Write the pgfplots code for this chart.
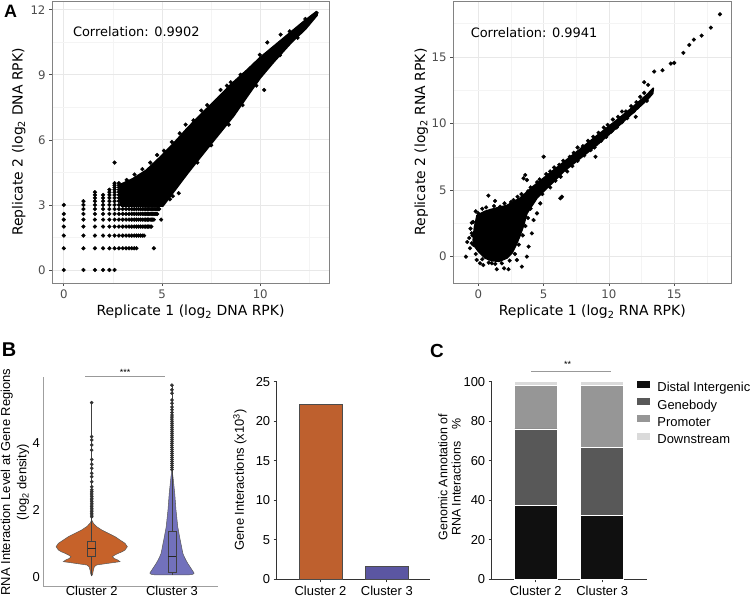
\documentclass[border=0pt]{standalone}
\usepackage{fontspec}
\setmainfont{Liberation Sans}
\newfontfamily\dejavu{DejaVu Sans}
\usepackage{pgfplots}
\pgfplotsset{compat=1.18}
\definecolor{gridmaj}{RGB}{232,232,232}
\definecolor{gridmin}{RGB}{244,244,244}
\definecolor{bordergray}{RGB}{130,130,130}
\definecolor{tickgray}{RGB}{77,77,77}
\definecolor{vorange}{RGB}{198,98,42}
\definecolor{vpurple}{RGB}{114,113,188}
\definecolor{borange}{RGB}{190,96,46}
\definecolor{bpurple}{RGB}{91,86,162}
\definecolor{cone}{RGB}{16,16,16}
\definecolor{ctwo}{RGB}{88,88,88}
\definecolor{cthree}{RGB}{150,150,150}
\definecolor{cfour}{RGB}{218,218,218}
\pgfplotsset{
  panelA/.style={
    scale only axis, anchor=south west,
    grid=both,
    major grid style={color=gridmaj, line width=0.7bp},
    minor grid style={color=gridmin, line width=0.5bp},
    axis line style={draw=bordergray, line width=0.8bp},
    tick align=outside, major tick length=3bp, minor tick length=0pt,
    tick pos=left,
    tick style={color=tickgray, line width=0.6bp},
    ticklabel style={font=\dejavu\fontsize{11.8}{14}\selectfont, text=tickgray},
    /pgf/number format/assume math mode=true,
    clip=true,
  },
  panelB/.style={
    scale only axis, anchor=south west,
    axis x line*=bottom, axis y line*=left,
    ticklabel style={font=\fontsize{13}{15}\selectfont},
    /pgf/number format/assume math mode=true,
    clip=false,
  },
}
\begin{document}
\begin{tikzpicture}
\useasboundingbox (0,0) rectangle (750bp,600bp);

% ---------------- A left: DNA ----------------
\begin{axis}[panelA, at={(52bp,317bp)}, width=277bp, height=282bp,
  xmin=-0.6, xmax=13.5, ymin=-0.6, ymax=12.4,
  xtick={0,5,10}, ytick={0,3,6,9,12},
  minor xtick={2.5,7.5,12.5}, minor ytick={1.5,4.5,7.5,10.5}]
\addplot[fill=black, draw=black, line width=1.6bp, line join=round] coordinates {
 (2.9,2.95) (5.05,2.95) (5.3,3.25) (5.8,3.85) (6.3,4.45) (7.0,5.25) (7.8,6.15)
 (8.65,7.1) (9.3,7.95) (10.0,8.85) (10.7,9.6) (11.6,10.5) (12.3,11.1) (12.9,11.75)
 (12.85,11.9) (12.2,11.45) (11.4,10.85) (10.6,10.25) (10.0,9.8) (9.3,9.2) (8.5,8.55)
 (7.8,7.9) (6.95,7.15) (6.3,6.55) (5.6,5.85) (4.9,5.2) (4.2,4.6) (3.5,4.2) (2.9,3.95) (2.9,2.95)};
\addplot[only marks, mark=*, mark size=1.9bp, mark options={fill=black, draw=black}] coordinates {
 (0,0) (1,0) (1.585,0) (2,0) (2.322,0) (2.585,0)
 (0,1) (1,1) (1.585,1) (2,1) (2.322,1) (2.585,1) (2.807,1) (3,1) (3.17,1) (3.322,1) (3.459,1) (3.585,1) (3.7,1) (4.585,1)
 (0,1.585) (1,1.585) (1.585,1.585) (2,1.585) (2.322,1.585) (2.585,1.585) (2.807,1.585) (3,1.585) (3.17,1.585) (3.322,1.585) (3.459,1.585) (3.585,1.585) (3.7,1.585) (3.807,1.585) (3.907,1.585) (4,1.585) (4.087,1.585)
 (0,2) (1,2) (1.585,2) (2,2) (2.322,2) (2.585,2) (2.807,2) (3,2) (3.17,2) (3.322,2) (3.459,2) (3.585,2) (3.7,2) (3.807,2) (3.907,2) (4,2) (4.087,2) (4.17,2) (4.248,2) (4.322,2) (4.392,2) (4.459,2)
 (0,2.322) (1,2.322) (1.585,2.322) (2,2.322) (2.322,2.322) (2.585,2.322) (2.807,2.322) (3,2.322) (3.17,2.322) (3.322,2.322) (3.459,2.322) (3.585,2.322) (3.7,2.322) (3.807,2.322) (3.907,2.322) (4,2.322) (4.087,2.322) (4.17,2.322) (4.248,2.322) (4.322,2.322) (4.392,2.322) (4.459,2.322) (4.524,2.322) (4.585,2.322) (4.954,2.322)
 (0,2.585) (1,2.585) (1.585,2.585) (2,2.585) (2.322,2.585) (2.585,2.585) (2.807,2.585) (3,2.585) (3.17,2.585) (3.322,2.585) (3.459,2.585) (3.585,2.585) (3.7,2.585) (3.807,2.585) (3.907,2.585) (4,2.585) (4.087,2.585) (4.17,2.585) (4.248,2.585) (4.322,2.585) (4.392,2.585) (4.459,2.585) (4.524,2.585) (4.585,2.585) (4.644,2.585) (4.7,2.585) (4.755,2.585)
 (1,2.807) (1.585,2.807) (2,2.807) (2.322,2.807) (2.585,2.807) (2.807,2.807) (3,2.807) (3.17,2.807) (3.322,2.807) (3.459,2.807) (3.585,2.807) (3.7,2.807) (3.807,2.807) (3.907,2.807) (4,2.807) (4.087,2.807) (4.17,2.807) (4.248,2.807) (4.322,2.807) (4.392,2.807) (4.459,2.807) (4.524,2.807) (4.585,2.807) (4.644,2.807) (4.7,2.807) (4.755,2.807) (4.807,2.807) (4.858,2.807)
 (0,3) (1,3) (1.585,3) (2,3) (2.322,3) (2.585,3) (2.807,3)
 (1,3.17)
 (1.585,3.17) (1.585,3.322) (1.585,3.459) (1.585,3.585)
 (2,3.17) (2,3.322) (2,3.459)
 (2.322,3.17) (2.322,3.322) (2.322,3.459) (2.322,3.585) (2.322,3.7)
 (2.585,3.17) (2.585,3.322) (2.585,3.459) (2.585,3.585) (2.585,3.7) (2.585,3.807) (2.585,3.907) (2.585,4.0) (2.585,4.95)
 (2.807,3.17) (2.807,3.322) (2.807,3.459) (2.807,3.585) (2.807,3.7) (2.807,3.807) (2.807,3.907) (2.807,4.0)
 (3.2,4.15) (3.6,4.4) (4.0,4.65) (4.4,4.95) (4.75,5.3) (5.1,5.5) (5.5,5.9) (5.9,6.3) (6.2,6.7) (6.6,6.9)
 (7.0,7.35) (7.3,7.6) (7.98,8.3) (8.3,8.5) (8.5,8.65) (9.0,9.0) (9.68,9.46) (9.98,9.92) (10.36,10.49)
 (11.04,10.85) (11.5,11.0) (12.3,11.57) (12.65,11.7) (12.87,11.85)
 (10.2,8.3) (5.85,3.54) (5.4,3.26) (5.55,3.4) (6.8,4.95) (7.5,5.75) (8.4,6.7) (9.1,7.6) (9.8,8.5) (11.0,9.9) (11.9,10.7)
};
\node[anchor=west, font=\dejavu\fontsize{13}{15}\selectfont] at (axis cs:0.29,10.97) {Correlation: 0.9902};
\end{axis}

% ---------------- A right: RNA ----------------
\begin{axis}[panelA, at={(453bp,317bp)}, width=278.7bp, height=282bp,
  xmin=-1.94, xmax=19.4, ymin=-1.98, ymax=19.2,
  xtick={0,5,10,15}, ytick={0,5,10,15},
  minor xtick={2.5,7.5,12.5,17.5}, minor ytick={2.5,7.5,12.5,17.5}]
\addplot[fill=black, draw=black, line width=1.6bp, line join=round] coordinates {
 (-0.4,1.2) (-0.3,2.2) (-0.1,3.1) (0.5,3.4) (1.0,3.55) (2.2,3.85) (3.2,4.4) (4.23,5.3)
 (5.26,6.1) (6.54,7.1) (7.82,8.1) (9.1,9.1) (10.4,10.1) (11.67,11.1) (12.95,12.2) (13.4,12.65)
 (13.35,12.25) (12.95,11.8) (11.67,10.65) (10.38,9.5) (9.1,8.4) (7.82,7.4) (6.54,6.4)
 (5.26,5.15) (4.49,4.4) (3.72,3.25) (3.45,2.3) (3.2,1.6) (2.9,0.9) (2.6,0.3) (2.2,-0.1)
 (1.6,-0.35) (1.0,-0.3) (0.5,-0.1) (0.0,0.4) (-0.3,0.8) (-0.4,1.2)};
\addplot[only marks, mark=*, mark size=1.9bp, mark options={fill=black, draw=black}] coordinates {
 (-0.95,0) (-0.85,1.1) (-0.7,1.4) (-0.5,1.75) (-0.6,2.1) (-0.5,2.55) (0,3.25) (-0.64,0.63) (-0.38,0.88)
 (-0.13,-0.25) (0.13,-0.5) (0.38,-0.63) (1.03,-0.5) (1.41,-0.95) (1.97,-0.88) (2.31,-0.95) (2.95,-0.25) (3.33,-0.75) (3.72,0)
 (3.85,0.75) (4.1,1.75) (4.23,2.75) (4.49,3.25) (4.74,4.0) (0.77,4.58) (1.67,3.75) (1.28,4.18) (2.69,4.25)
 (3.59,6.13) (3.72,5.75) (3.46,5.88) (5.0,7.5) (8.97,7.5) (12.05,10.5) (6.28,4.38) (6.4,4.5)
 (-0.2,3.4) (0.3,3.6) (0.6,3.7) (1.2,3.8) (2.0,4.0) (2.5,4.1) (3.0,4.5) (3.3,4.7) (3.8,4.9)
 (-0.5,1.0) (-0.45,1.6) (-0.4,2.6) (-0.2,0.2) (0.3,-0.2) (0.8,-0.45) (1.3,-0.55) (1.8,-0.5) (2.4,-0.3)
 (2.8,0.2) (3.1,0.9) (3.4,1.6) (3.6,2.3) (3.8,2.9) (4.0,3.6)
 (4.0,5.2) (4.7,5.8) (5.2,6.2) (5.8,6.7) (6.5,7.2) (7.3,7.8) (8.0,8.3) (8.8,9.0) (9.6,9.7) (10.3,10.3) (11.0,10.9) (11.7,11.3) (12.4,12.0)
 (4.9,4.7) (5.9,5.7) (6.3,6.0) (7.2,6.8) (8.1,7.6) (8.9,8.2) (9.8,9.0) (10.6,9.7) (11.4,10.4) (12.2,11.2) (12.9,11.7)
 (4.5,5.6) (5.5,6.4) (6.2,6.9) (7.0,7.5) (7.6,8.2) (8.4,8.7) (9.2,9.3) (9.9,9.9) (10.7,10.5) (11.3,10.9) (12.1,11.6) (12.7,12.3) (13.0,12.9)
 (5.5,5.2) (6.8,6.4) (7.6,7.2) (8.6,8.0) (9.4,8.7) (10.2,9.4) (11.0,10.1) (11.9,10.9) (12.5,11.5)
 (12.7,13.1) (13.46,13.9) (14.1,14.0) (14.74,14.5) (15.0,14.55) (15.7,15.3) (16.15,15.9) (16.5,16.3) (17.1,16.6) (17.8,17.2) (18.5,18.2)
};
\node[anchor=west, font=\dejavu\fontsize{13}{15}\selectfont] at (axis cs:-0.85,16.8) {Correlation: 0.9941};
\end{axis}

% A labels
\node[font=\dejavu\fontsize{14}{17}\selectfont, anchor=base] at (190.5bp,284bp) {Replicate 1 (log\textsubscript{2} DNA RPK)};
\node[font=\dejavu\fontsize{14}{17}\selectfont, anchor=base, rotate=90] at (22.7bp,458bp) {Replicate 2 (log\textsubscript{2} DNA RPK)};
\node[font=\dejavu\fontsize{14}{17}\selectfont, anchor=base] at (592.3bp,284bp) {Replicate 1 (log\textsubscript{2} RNA RPK)};
\node[font=\dejavu\fontsize{14}{17}\selectfont, anchor=base, rotate=90] at (425bp,458bp) {Replicate 2 (log\textsubscript{2} RNA RPK)};

% ---------------- B left: violins ----------------
\begin{axis}[panelB, at={(43.3bp,14bp)}, width=175bp, height=209.3bp,
  xmin=-0.603, xmax=1.577, ymin=-0.259, ymax=5.961,
  axis line style={draw=gray!75, line width=0.8bp},
  xtick={0,1}, xticklabels={Cluster 2,Cluster 3}, ytick={0,2,4},
  xticklabel style={yshift=3bp},
  major tick length=0pt]
\addplot[fill=vorange, draw=black!65, line width=0.5bp] coordinates {
 (0,0.039) (0.012,0.1) (0.021,0.217) (0.033,0.315) (0.062,0.366) (0.208,0.416) (0.353,0.464) (0.324,0.514)
 (0.28,0.56) (0.257,0.612) (0.29,0.663) (0.332,0.713) (0.38,0.76) (0.415,0.811) (0.444,0.909) (0.415,1.010)
 (0.353,1.108) (0.291,1.207) (0.208,1.307) (0.125,1.406) (0.062,1.505) (0.021,1.604) (0,1.703)
 (-0.021,1.604) (-0.062,1.505) (-0.125,1.406) (-0.208,1.307) (-0.291,1.207) (-0.353,1.108) (-0.415,1.010)
 (-0.444,0.909) (-0.415,0.811) (-0.38,0.76) (-0.332,0.713) (-0.29,0.663) (-0.257,0.612) (-0.28,0.56)
 (-0.324,0.514) (-0.353,0.464) (-0.208,0.416) (-0.062,0.366) (-0.033,0.315) (-0.021,0.217) (-0.012,0.1) (0,0.039)};
\addplot[fill=vpurple, draw=black!65, line width=0.5bp] coordinates {
 (1.22,0.075) (1.26,0.09) (1.275,0.12) (1.272,0.14) (1.255,0.2) (1.228,0.3) (1.2,0.4) (1.176,0.5) (1.155,0.6)
 (1.137,0.7) (1.128,0.8) (1.112,1.0) (1.095,1.2) (1.072,1.5) (1.05,2.0) (1.034,2.5) (1.012,3.0) (1,3.2)
 (0.988,3.0) (0.966,2.5) (0.95,2.0) (0.928,1.5) (0.905,1.2) (0.888,1.0) (0.872,0.8) (0.863,0.7) (0.845,0.6)
 (0.824,0.5) (0.8,0.4) (0.772,0.3) (0.745,0.2) (0.728,0.14) (0.725,0.12) (0.74,0.09) (0.78,0.075) (1.22,0.075)};
% stems / whiskers
\addplot[draw=black!75, line width=0.6bp] coordinates {(0,0.04) (0,5.19)};
\addplot[draw=black!75, line width=0.6bp] coordinates {(1,0.08) (1,5.71)};
% boxes
\addplot[fill=vorange, draw=black!75, line width=0.6bp] coordinates {(-0.05,0.61) (0.05,0.61) (0.05,1.08) (-0.05,1.08) (-0.05,0.61)};
\addplot[draw=black!85, line width=0.9bp] coordinates {(-0.05,0.86) (0.05,0.86)};
\addplot[fill=vpurple, draw=black!75, line width=0.6bp] coordinates {(0.95,0.16) (1.05,0.16) (1.05,1.37) (0.95,1.37) (0.95,0.16)};
\addplot[draw=black!85, line width=0.9bp] coordinates {(0.95,0.63) (1.05,0.63)};
% outliers
\addplot[only marks, mark=*, mark size=1.6bp, mark options={fill=black!80, draw=black!80}] coordinates {
 (0,1.80) (0,1.85) (0,1.90) (0,1.95) (0,2.00) (0,2.05) (0,2.10) (0,2.15) (0,2.20) (0,2.25) (0,2.30) (0,2.35)
 (0,2.40) (0,2.45) (0,2.50) (0,2.55) (0,2.60) (0,2.69) (0,2.84) (0,2.99) (0,3.09) (0,3.24) (0,3.36) (0,3.50)
 (0,3.78) (0,3.93) (0,4.08) (0,4.18) (0,5.19)
 (1,3.20) (1,3.26) (1,3.32) (1,3.38) (1,3.44) (1,3.50) (1,3.56) (1,3.62) (1,3.68) (1,3.74) (1,3.80) (1,3.86)
 (1,3.92) (1,3.98) (1,4.04) (1,4.10) (1,4.16) (1,4.22) (1,4.28) (1,4.34) (1,4.40) (1,4.46) (1,4.52) (1,4.58)
 (1,4.64) (1,4.70) (1,4.76) (1,4.82) (1,4.90) (1,4.98) (1,5.06) (1,5.17) (1,5.27) (1,5.47) (1,5.57) (1,5.71)};
% significance
\addplot[draw=gray!80, line width=0.7bp] coordinates {(-0.08,5.98) (0.91,5.98)};
\node[font=\fontsize{9}{9}\selectfont] at (axis cs:0.415,6.08) {***};
\end{axis}
\node[font=\fontsize{13}{16.3}\selectfont, rotate=90, align=center] at (15bp,118bp) {RNA Interaction Level at Gene Regions\\(log\textsubscript{2} density)};

% ---------------- B right: bars ----------------
\begin{axis}[panelB, at={(276.7bp,20.7bp)}, width=153.3bp, height=197.6bp,
  xmin=-0.66, xmax=1.65, ymin=0, ymax=25,
  axis line style={draw=black!80, line width=0.8bp},
  tick align=outside, major tick length=3bp, tick style={color=black!80, line width=0.8bp},
  xtick={0,1}, xticklabels={Cluster 2,Cluster 3}, ytick={0,5,10,15,20,25},
  ybar, bar width=42.7bp]
\addplot[fill=borange, draw=black!70, line width=0.6bp, bar shift=0pt] coordinates {(0,22.1)};
\addplot[fill=bpurple, draw=black!70, line width=0.6bp, bar shift=0pt] coordinates {(1,1.65)};
\end{axis}
\node[font=\fontsize{13}{15}\selectfont, rotate=90] at (240bp,120bp) {Gene Interactions (x10\textsuperscript{3})};

% ---------------- C: stacked bars ----------------
\begin{axis}[panelB, at={(491.7bp,20.7bp)}, width=155bp, height=197.6bp,
  xmin=-0.663, xmax=1.668, ymin=0, ymax=100,
  axis line style={draw=black!80, line width=0.8bp},
  tick align=outside, major tick length=3bp, tick style={color=black!80, line width=0.8bp},
  xtick={0,1}, xticklabels={Cluster 2,Cluster 3}, ytick={0,20,40,60,80,100},
  ybar stacked, bar width=43bp,
  legend style={at={(0.935,1.005)}, anchor=north west, draw=none, fill=none, inner sep=0pt,
    font=\fontsize{13}{15}\selectfont,
    nodes={inner sep=0pt, text height=10bp, text depth=3bp},
    row sep=3.2bp,
    /tikz/every odd column/.append style={column sep=7.6bp}},
  legend cell align=left,
  legend image code/.code={\fill[#1, draw=none] (0bp,0.5bp) rectangle (13bp,7.5bp);}]
\addplot[fill=cone, draw=white, line width=0.8bp] coordinates {(0,37.2) (1,32.2)};
\addplot[fill=ctwo, draw=white, line width=0.8bp] coordinates {(0,38.9) (1,34.6)};
\addplot[fill=cthree, draw=white, line width=0.8bp] coordinates {(0,22.2) (1,31.2)};
\addplot[fill=cfour, draw=white, line width=0.8bp] coordinates {(0,1.7) (1,2.0)};
\legend{Distal Intergenic, Genebody, Promoter, Downstream}
\draw[gray!80, line width=0.7bp] (axis cs:-0.07,105.1) -- (axis cs:1.13,105.1);
\node[font=\fontsize{9}{9}\selectfont] at (axis cs:0.48,108.6) {**};
\end{axis}
\node[font=\fontsize{12.5}{13.3}\selectfont, rotate=90, align=center] at (449.5bp,123bp) {Genomic Annotation of\\RNA Interactions\quad\%};

% panel letters
\node[font=\bfseries\fontsize{18}{18}\selectfont] at (10.5bp,589bp) {A};
\node[font=\bfseries\fontsize{20}{20}\selectfont] at (9bp,250bp) {B};
\node[font=\bfseries\fontsize{19}{19}\selectfont] at (437bp,249bp) {C};
\end{tikzpicture}
\end{document}
